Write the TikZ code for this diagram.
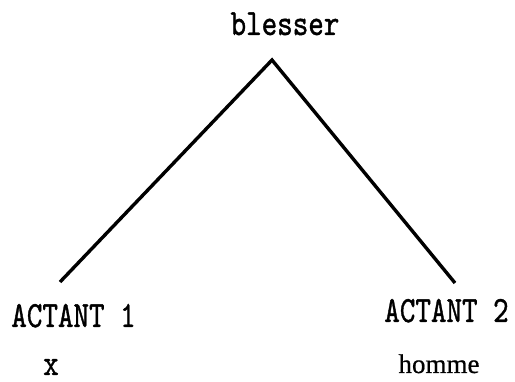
\documentclass[tikz,border=0pt]{standalone}
\usepackage{fontspec}
\usepackage{graphicx}
\newfontfamily\homfont[FakeBold=0.6]{Liberation Serif}
\newfontfamily\twfont[FakeBold=1.2]{lmmono10-regular.otf}
\tikzset{
  tw/.style={inner sep=0pt, anchor=base, font=\fontsize{37}{37}\selectfont\twfont},
  rm/.style={inner sep=0pt, anchor=base, font=\fontsize{27}{27}\selectfont\homfont},
  branch/.style={line width=3.4pt, miter limit=20}
}
\newcommand{\nar}[1]{\scalebox{0.8}[1]{#1}}
\begin{document}
\begin{tikzpicture}[x=1pt,y=-1pt]
\useasboundingbox (0,0) rectangle (515,382);
\node[tw] (top) at (285,35) {\nar{blesser}};
\coordinate (apex) at (272,60);
\coordinate (lend) at (60,282);
\coordinate (rend) at (455,283);
\draw[branch] (lend) -- (apex) -- (rend);
\node[tw] (a1) at (73.5,327) {\nar{ACTANT 1}};
\node[tw] (a2) at (446.5,322) {\nar{ACTANT 2}};
\node[tw] (x) at (51,375) {\nar{x}};
\node[rm] (h) at (439,373) {homme};
\end{tikzpicture}
\end{document}
